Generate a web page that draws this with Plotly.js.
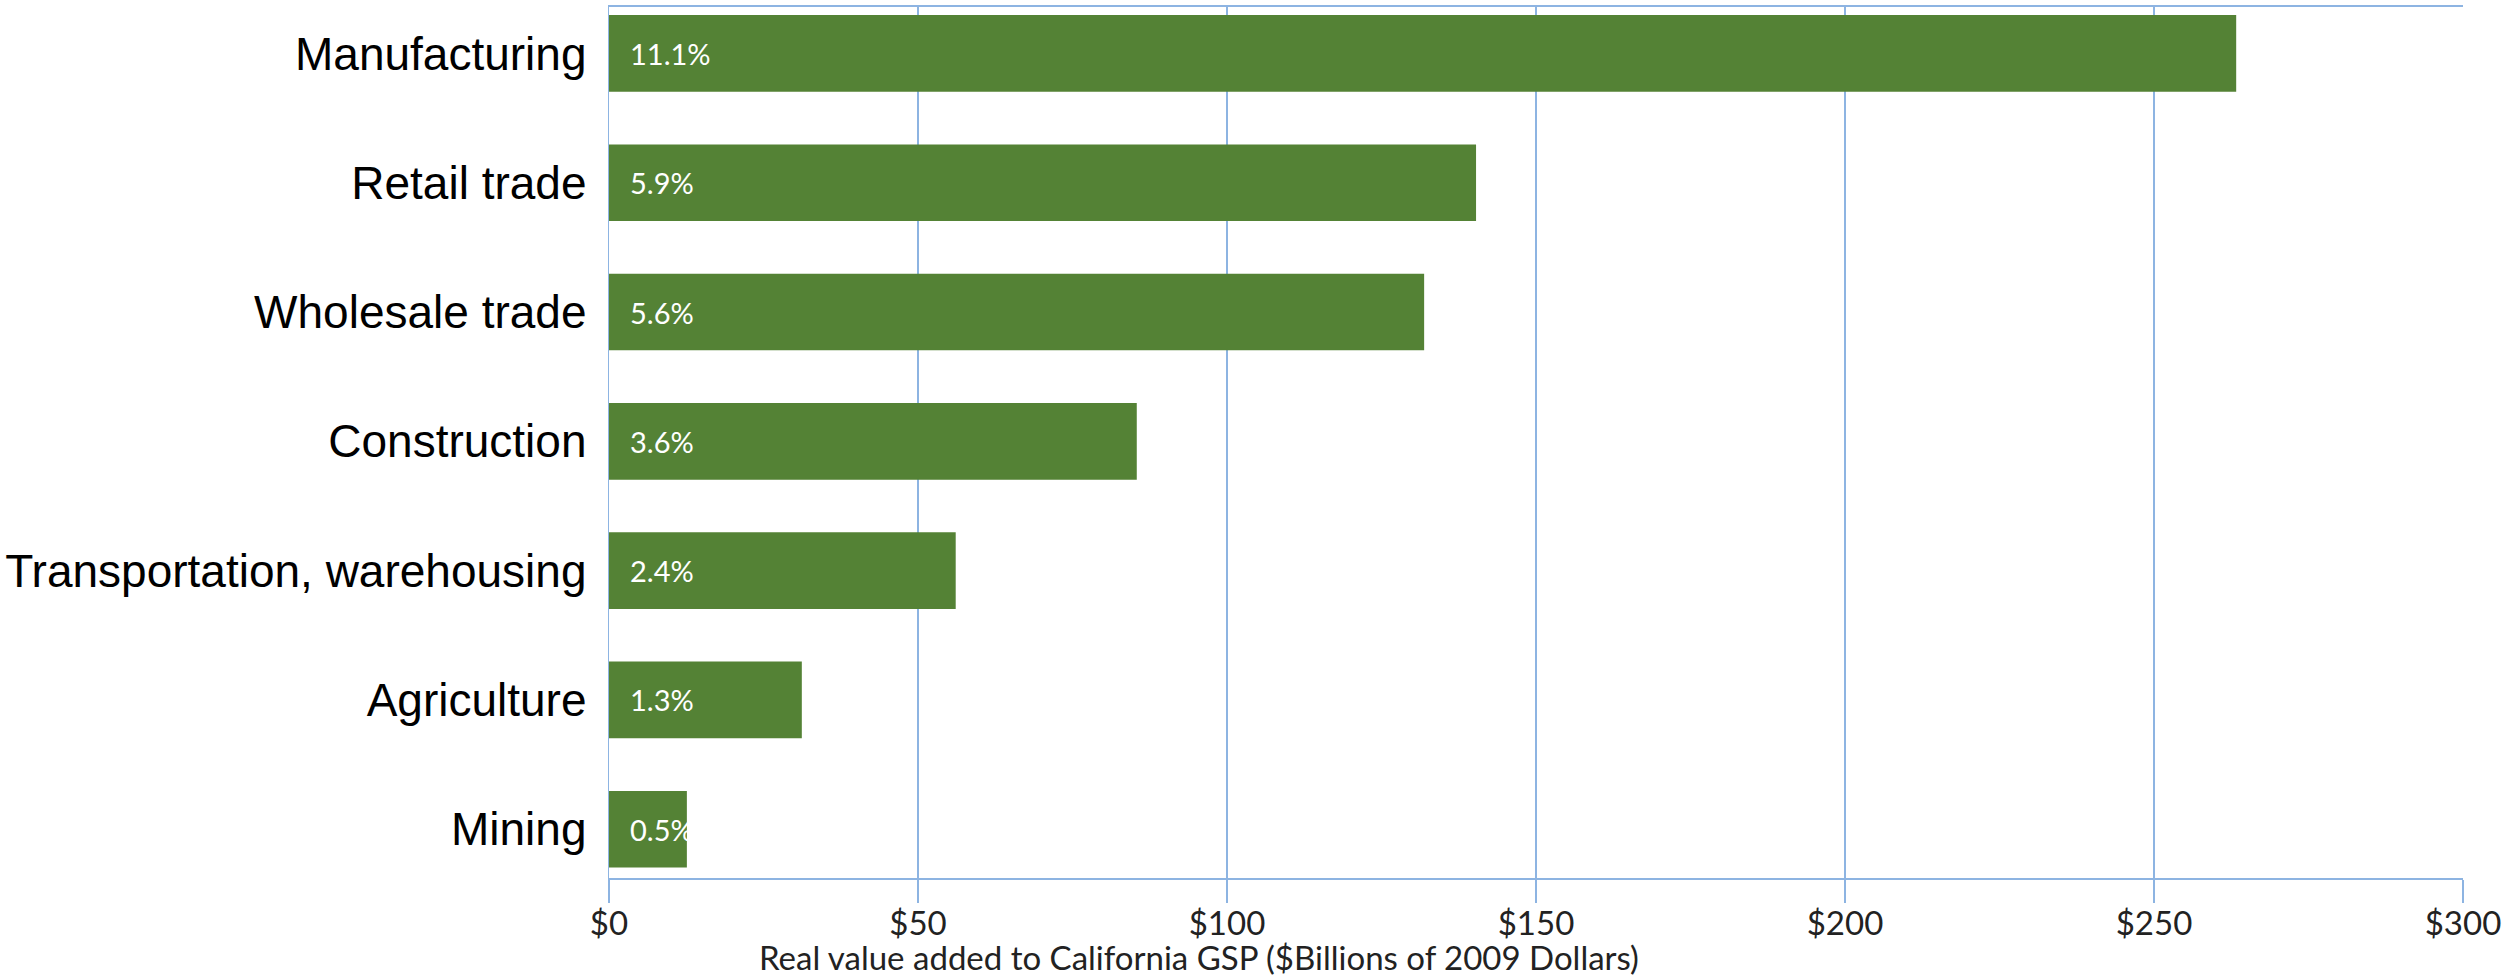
<!DOCTYPE html>
<html>
<head>
<meta charset="utf-8">
<script src="https://cdn.plot.ly/plotly-3.0.1.min.js"></script>
<style>html,body{margin:0;padding:0;background:#fff;}#chart{width:2504px;height:978px;}</style>
</head>
<body>
<div id="chart"></div>
<script>
// Categories listed bottom-to-top
const categories = ["Mining", "Agriculture", "Transportation, warehousing", "Construction", "Wholesale trade", "Retail trade", "Manufacturing"];
const values = [12.6, 31.2, 56.1, 85.4, 131.9, 140.3, 263.3];
const shares = ["0.5%", "1.3%", "2.4%", "3.6%", "5.6%", "5.9%", "11.1%"];
const xTickVals = [0, 50, 100, 150, 200, 250, 300];
const xTickText = ["$0", "$50", "$100", "$150", "$200", "$250", "$300"];
const xTitle = "Real value added to California GSP ($Billions of 2009 Dollars)";

const gridColor = "#8DB4E2";

const trace = {
  type: "bar",
  orientation: "h",
  x: values,
  y: categories,
  marker: {color: "#548235", line: {width: 0}},
  hoverinfo: "x+y"
};

const annotations = categories.map((c, i) => ({
  x: 0, y: c, xref: "x", yref: "y",
  text: shares[i], showarrow: false,
  xanchor: "left", yanchor: "middle", xshift: 19,
  font: {family: "Lato, 'Liberation Sans', sans-serif", size: 29, color: "#ffffff"}
}));
annotations.push({
  x: 0.318, y: 0, xref: "paper", yref: "paper",
  xanchor: "center", yanchor: "middle", yshift: -79,
  text: xTitle, showarrow: false,
  font: {family: "Lato, 'Liberation Sans', sans-serif", size: 33, color: "#222222"}
});

const layout = {
  width: 2504, height: 978,
  margin: {l: 609, r: 41, t: 7, b: 100},
  paper_bgcolor: "#ffffff", plot_bgcolor: "#ffffff",
  bargap: 0.407,
  showlegend: false,
  xaxis: {
    range: [0, 300],
    tickvals: xTickVals, ticktext: xTickText,
    showgrid: true, gridcolor: gridColor, gridwidth: 1.3,
    zeroline: false,
    showline: true, linecolor: gridColor, linewidth: 2, mirror: true,
    ticks: "outside", ticklen: 23, tickwidth: 1.3, tickcolor: gridColor,
    ticklabelstandoff: -8,
    tickfont: {family: "Lato, 'Liberation Sans', sans-serif", size: 33, color: "#222222"},
    fixedrange: true
  },
  yaxis: {
    type: "category",
    categoryorder: "array", categoryarray: categories,
    range: [-0.377, 6.359],
    showgrid: false, zeroline: false,
    showline: true, linecolor: gridColor, linewidth: 1.3, mirror: false,
    ticks: "", ticklabelstandoff: 12,
    tickfont: {family: "'Liberation Sans', Arial, sans-serif", size: 46, color: "#000000"},
    fixedrange: true
  },
  annotations: annotations
};

Plotly.newPlot("chart", [trace], layout, {displayModeBar: false, staticPlot: true});
</script>
</body>
</html>
